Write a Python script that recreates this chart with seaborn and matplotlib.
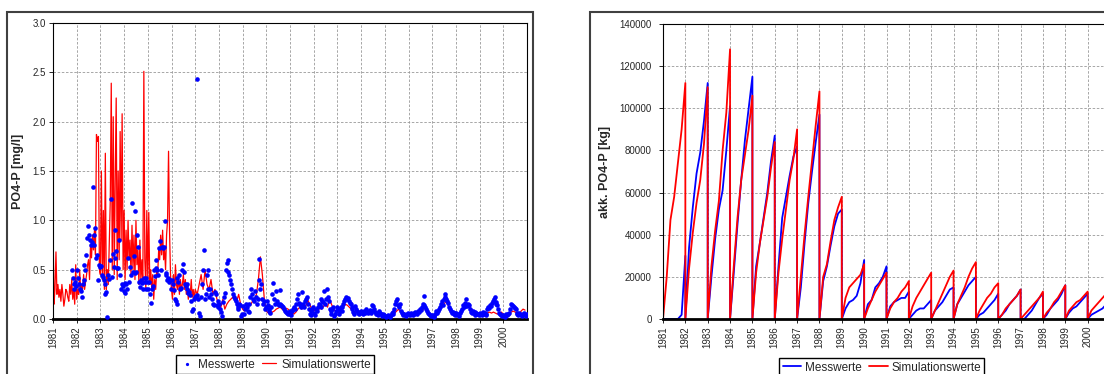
import numpy as np
import pandas as pd
import matplotlib
matplotlib.use("Agg")
import matplotlib.pyplot as plt
from matplotlib.patches import Rectangle
import seaborn as sns

sns.set_theme(style="white")
plt.rcParams["font.family"] = ["Liberation Sans", "DejaVu Sans"]

# =====================================================
# Data
# =====================================================

years = list(range(1981, 2001))

# simulated PO4-P [mg/l], half-monthly 1981-1986
sim_early = [
    0.98, 0.15, 0.30, 0.68, 0.25, 0.35, 0.22, 0.30, 0.18, 0.35, 0.25, 0.13,
    0.20, 0.30, 0.28, 0.22, 0.18, 0.35, 0.25, 0.40, 0.20, 0.30, 0.15, 0.55,
    0.20, 0.30, 0.25, 0.50, 0.28, 0.35, 0.30, 0.45, 0.30, 0.38, 0.45, 0.55,
    0.60, 0.40, 0.75, 0.62, 0.85, 0.70, 0.90, 0.65, 1.87, 1.80, 1.85, 0.50,
    0.45, 1.50, 0.40, 1.10, 0.30, 1.68, 0.30, 0.50, 0.35, 0.80, 1.20, 2.39,
    0.50, 2.05, 0.45, 1.40, 2.24, 0.40, 1.50, 0.60, 1.90, 0.80, 2.08, 0.50,
    1.10, 0.40, 0.90, 0.50, 1.00, 0.60, 0.80, 0.45, 0.95, 0.50, 0.85, 0.40,
    1.00, 0.55, 0.70, 0.35, 0.80, 0.40, 0.60, 0.35, 2.51, 0.60, 0.30, 1.10,
    0.40, 1.08, 0.35, 0.50, 0.30, 0.45, 0.20, 0.40, 0.30, 0.50, 0.45, 0.70,
    0.60, 0.85, 0.65, 0.90, 0.60, 0.70, 0.50, 0.85, 1.00, 1.70, 0.90, 0.45,
    0.30, 0.20, 0.45, 0.25, 0.55, 0.35, 0.30, 0.45, 0.25, 0.40, 0.30, 0.35,
    0.45, 0.30, 0.40, 0.25, 0.35, 0.20, 0.30, 0.25, 0.40, 0.22, 0.30, 0.20,
]

# simulated PO4-P [mg/l], monthly 1987-2000
sim_late = [
    0.30, 0.25, 0.35, 0.45, 0.30, 0.50, 0.35, 0.30, 0.40, 0.25, 0.30, 0.20,
    0.15, 0.12, 0.20, 0.10, 0.15, 0.18, 0.20, 0.22, 0.20, 0.18, 0.25, 0.15,
    0.10, 0.08, 0.12, 0.15, 0.14, 0.18, 0.20, 0.25, 0.40, 0.63, 0.45, 0.20,
    0.08, 0.06, 0.05, 0.07, 0.08, 0.10, 0.11, 0.12, 0.10, 0.09, 0.11, 0.10,
    0.08, 0.06, 0.05, 0.07, 0.10, 0.12, 0.10, 0.14, 0.13, 0.19, 0.15, 0.10,
    0.08, 0.10, 0.07, 0.12, 0.10, 0.13, 0.15, 0.12, 0.20, 0.15, 0.10, 0.08,
    0.07, 0.06, 0.10, 0.12, 0.15, 0.14, 0.12, 0.10, 0.08, 0.07, 0.08, 0.06,
    0.05, 0.06, 0.07, 0.06, 0.05, 0.06, 0.08, 0.07, 0.05, 0.06, 0.05, 0.04,
    0.04, 0.03, 0.04, 0.03, 0.05, 0.06, 0.08, 0.10, 0.07, 0.06, 0.05, 0.04,
    0.04, 0.05, 0.05, 0.06, 0.05, 0.06, 0.07, 0.08, 0.12, 0.10, 0.06, 0.04,
    0.03, 0.04, 0.05, 0.08, 0.10, 0.12, 0.15, 0.18, 0.14, 0.10, 0.06, 0.05,
    0.05, 0.06, 0.05, 0.08, 0.10, 0.12, 0.14, 0.12, 0.10, 0.08, 0.06, 0.05,
    0.06, 0.05, 0.06, 0.07, 0.06, 0.07, 0.06, 0.07, 0.06, 0.05, 0.06, 0.07,
    0.05, 0.04, 0.05, 0.06, 0.07, 0.08, 0.07, 0.06, 0.05, 0.08, 0.10, 0.09,
]

# measured PO4-P [mg/l], 26 samples per year from 1981
meas = [np.nan] * 20 + [0.50, 0.42, 0.35, 0.30, 0.37, 0.33] + [
    0.50, 0.42, 0.35, 0.30, 0.28, 0.22, 0.35, 0.40, 0.55, 0.50, 0.65, 0.82, 0.94,
    0.85, 0.80, 0.75, 0.78, 1.34, 0.85, 0.75, 0.92, 0.62, 0.65, 0.40, 0.55, 0.53,
    0.54, 0.45, 0.43, 0.40, 0.35, 0.25, 0.27, 0.02, 0.45, 0.41, 0.60, 1.22, 0.43,
    0.66, 0.53, 0.62, 0.90, 0.69, 0.52, 0.52, 0.80, 0.45, 0.30, 0.35, 0.33, 0.28,
    0.36, 0.26, 0.35, 0.30, 0.62, 0.37, 0.53, 0.45, 1.18, 0.48, 0.64, 0.47, 1.09,
    0.48, 0.85, 0.73, 0.38, 0.32, 0.40, 0.36, 0.30, 0.42, 0.37, 0.30, 0.42, 0.38,
    0.30, 0.37, 0.25, 0.16, 0.30, 0.33, 0.50, 0.44, 0.60, 0.52, 0.50, 0.45, 0.72,
    0.79, 0.50, 0.73, 0.72, 0.73, 0.99, 0.47, 0.45, 0.40, 0.42, 0.38, 0.40, 0.30,
    0.40, 0.35, 0.29, 0.20, 0.18, 0.15, 0.42, 0.38, 0.45, 0.30, 0.31, 0.50, 0.56,
    0.48, 0.35, 0.33, 0.35, 0.30, 0.26, 0.27, 0.24, 0.18, 0.08, 0.10, 0.20, 0.22,
    0.23, 2.43, 0.24, 0.20, 0.06, 0.03, 0.22, 0.35, 0.50, 0.70, 0.20, 0.25, 0.45,
    0.50, 0.30, 0.22, 0.30, 0.25, 0.20, 0.15, 0.14, 0.27, 0.25, 0.14, 0.18, 0.12,
    0.15, 0.10, 0.07, 0.03, 0.17, 0.22, 0.26, 0.50, 0.57, 0.60, 0.48, 0.45, 0.40,
    0.35, 0.30, 0.25, 0.22, 0.20, 0.18, 0.15, 0.12, 0.10, 0.15, 0.14, 0.03, 0.05,
    0.13, 0.05, 0.10, 0.15, 0.12, 0.08, 0.07, 0.15, 0.22, 0.30, 0.25, 0.20, 0.18,
    0.28, 0.22, 0.15, 0.20, 0.61, 0.40, 0.30, 0.35, 0.20, 0.15, 0.18, 0.10, 0.12,
    0.18, 0.14, 0.10, 0.08, 0.06, 0.12, 0.25, 0.36, 0.20, 0.15, 0.28, 0.18, 0.15,
    0.14, 0.29, 0.15, 0.14, 0.13, 0.12, 0.10, 0.08, 0.07, 0.06, 0.05, 0.07, 0.08,
    0.05, 0.04, 0.08, 0.10, 0.12, 0.10, 0.15, 0.20, 0.25, 0.16, 0.15, 0.14, 0.12,
    0.27, 0.15, 0.12, 0.18, 0.20, 0.22, 0.15, 0.10, 0.05, 0.08, 0.04, 0.10, 0.12,
    0.06, 0.04, 0.10, 0.08, 0.12, 0.15, 0.14, 0.20, 0.12, 0.18, 0.17, 0.28, 0.15,
    0.20, 0.30, 0.22, 0.18, 0.10, 0.05, 0.08, 0.10, 0.12, 0.03, 0.05, 0.08, 0.12,
    0.10, 0.05, 0.08, 0.12, 0.12, 0.08, 0.15, 0.18, 0.20, 0.22, 0.20, 0.21, 0.18,
    0.16, 0.15, 0.12, 0.10, 0.07, 0.05, 0.13, 0.10, 0.08, 0.06, 0.05, 0.07, 0.08,
    0.07, 0.06, 0.05, 0.08, 0.06, 0.10, 0.07, 0.06, 0.08, 0.09, 0.06, 0.08, 0.14,
    0.13, 0.10, 0.07, 0.05, 0.06, 0.04, 0.08, 0.06, 0.05, 0.03, 0.04, 0.05, 0.04,
    0.03, 0.02, 0.03, 0.04, 0.03, 0.02, 0.04, 0.06, 0.05, 0.07, 0.10, 0.15, 0.18,
    0.20, 0.14, 0.12, 0.15, 0.08, 0.06, 0.05, 0.04, 0.05, 0.04, 0.03, 0.05, 0.06,
    0.05, 0.04, 0.06, 0.05, 0.04, 0.06, 0.05, 0.07, 0.06, 0.05, 0.08, 0.07, 0.10,
    0.09, 0.12, 0.15, 0.23, 0.14, 0.12, 0.10, 0.08, 0.06, 0.05, 0.04, 0.03, 0.04,
    0.03, 0.02, 0.03, 0.05, 0.08, 0.06, 0.08, 0.10, 0.12, 0.15, 0.18, 0.14, 0.20,
    0.22, 0.25, 0.20, 0.18, 0.16, 0.12, 0.10, 0.08, 0.06, 0.07, 0.05, 0.06, 0.04,
    0.06, 0.05, 0.04, 0.03, 0.06, 0.08, 0.10, 0.14, 0.12, 0.13, 0.16, 0.20, 0.13,
    0.15, 0.14, 0.10, 0.07, 0.06, 0.08, 0.06, 0.07, 0.04, 0.06, 0.05, 0.05, 0.04,
    0.06, 0.05, 0.04, 0.07, 0.05, 0.06, 0.05, 0.04, 0.10, 0.12, 0.11, 0.14, 0.13,
    0.16, 0.18, 0.20, 0.22, 0.17, 0.15, 0.14, 0.10, 0.06, 0.05, 0.04, 0.03, 0.04,
    0.03, 0.02, 0.04, 0.05, 0.04, 0.05, 0.06, 0.10, 0.15, 0.14, 0.13, 0.12, 0.11,
    0.10, 0.06, 0.05, 0.04, 0.06, 0.05, 0.04, 0.03, 0.05, 0.06, 0.04, 0.03, 0.05,
]

# accumulated load [1000 kg], bi-monthly within each year (Jan 1 ... Dec 31)
acc_sim = [
    [0, 20, 47, 58, 74, 90, 112],
    [0, 24, 41, 55, 66, 83, 110],
    [0, 25, 42, 56, 80, 98, 128],
    [0, 25, 48, 66, 78, 90, 106],
    [0, 22, 36, 47, 58, 72, 84],
    [0, 22, 38, 52, 66, 76, 90],
    [0, 20, 40, 58, 75, 92, 108],
    [0, 20, 26, 37, 47, 53, 58],
    [0, 10, 15, 17, 19, 21, 26],
    [0, 5, 9, 13, 16, 19, 22],
    [0, 5, 8, 10, 13, 15, 18],
    [0, 6, 10, 13, 16, 19, 22],
    [0, 4, 8, 12, 16, 20, 23],
    [0, 7, 11, 15, 20, 24, 27],
    [0, 4, 7, 10, 12, 15, 17],
    [0, 2, 5, 7, 9, 11, 14],
    [0, 2, 4, 6, 8, 10, 13],
    [0, 3, 5, 8, 10, 13, 16],
    [0, 4, 6, 8, 9, 11, 13],
    [0, 4, 6, 8, 10, 12, 14],
]

acc_meas = [
    [0, 0, 0, 0, 0, 2, 30],
    [0, 34, 53, 69, 79, 94, 112],
    [0, 20, 38, 52, 61, 80, 101],
    [0, 22, 45, 66, 85, 100, 115],
    [0, 25, 36, 48, 60, 75, 87],
    [0, 25, 48, 58, 68, 77, 82],
    [0, 15, 36, 55, 70, 84, 97],
    [0, 18, 25, 35, 44, 50, 52],
    [0, 5, 8, 9, 11, 17, 28],
    [0, 7, 9, 15, 17, 20, 25],
    [0, 6, 8, 9, 10, 10, 13],
    [0, 2, 4, 5, 5, 7, 9],
    [0, 4, 6, 8, 11, 14, 15],
    [0, 7, 10, 13, 16, 18, 20],
    [0, 2, 3, 5, 7, 9, 12],
    [0, 2, 4, 7, 9, 11, 14],
    [0, 0, 2, 4, 7, 10, 12],
    [0, 2, 5, 7, 9, 12, 16],
    [0, 3, 5, 6, 8, 10, 12],
    [0, 2, 3, 4, 5, 7, 8],
]

# =====================================================
# Tables
# =====================================================

sim_df = pd.DataFrame({
    "t": np.concatenate([
        1981 + np.arange(len(sim_early)) / 24,
        1987 + np.arange(len(sim_late)) / 12,
    ]),
    "v": sim_early + sim_late,
})

meas_df = pd.DataFrame({
    "t": 1981 + (np.arange(len(meas)) + 0.5) / 26,
    "v": meas,
}).dropna()


def acc_table(rows):
    t, v = [], []
    for year, row in zip(years, rows):
        for i, val in enumerate(row):
            t.append(year + i / (len(row) - 1))
            v.append(val * 1000)
    return pd.DataFrame({"t": t, "v": v})


acc_sim_df = acc_table(acc_sim)
acc_meas_df = acc_table(acc_meas)

# =====================================================
# Figure
# =====================================================

W, H = 1104, 374
fig = plt.figure(figsize=(W / 100, H / 100), dpi=100)
fig.patch.set_facecolor("white")


def px_axes(x0, y0, x1, y1):
    return fig.add_axes([x0 / W, 1 - y1 / H, (x1 - x0) / W, (y1 - y0) / H])


def style_axes(ax):
    ax.set_facecolor("white")
    ax.set_xlim(1981, 2001)
    ax.set_xticks(years)
    ax.set_xticklabels([str(y) for y in years], rotation=90, fontsize=7)
    ax.grid(True, color="#999999", linestyle=(0, (3, 2)), linewidth=0.6)
    ax.set_axisbelow(True)
    for side in ["left", "top", "right"]:
        ax.spines[side].set_color("black")
        ax.spines[side].set_linewidth(0.8)
    ax.spines["bottom"].set_color("black")
    ax.spines["bottom"].set_linewidth(2.0)
    ax.tick_params(axis="both", direction="out", length=3, width=0.6,
                   color="black", labelsize=7, pad=2,
                   bottom=True, left=True)
    ax.set_xlabel("")


# chart frames
for x0, x1 in [(7, 533), (590, 1110)]:
    fig.add_artist(Rectangle((x0 / W, -0.1), (x1 - x0) / W, 1 - 12 / H + 0.1,
                             transform=fig.transFigure, fill=False,
                             edgecolor="#404040", linewidth=1.5))

# ---------------- left: concentration ----------------
ax1 = px_axes(53, 23, 527, 319)

sns.lineplot(data=sim_df, x="t", y="v", ax=ax1, color="#ff0000",
             linewidth=0.9, estimator=None, sort=False,
             label="Simulationswerte")
sns.scatterplot(data=meas_df, x="t", y="v", ax=ax1, color="#0000ff",
                s=11, linewidth=0, marker="o", label="Messwerte", zorder=3)

style_axes(ax1)
ax1.set_ylim(0, 3.0)
ax1.set_yticks(np.arange(0, 3.01, 0.5))
ax1.set_yticklabels([f"{v:.1f}" for v in np.arange(0, 3.01, 0.5)])
ax1.set_ylabel("PO4-P [mg/l]", fontsize=9, fontweight="bold", labelpad=6)

h, l = ax1.get_legend_handles_labels()
ax1.get_legend().remove()
fig.legend([h[1], h[0]], [l[1], l[0]], loc="upper left",
           bbox_to_anchor=(176 / W, 1 - 355 / H), ncol=2, fontsize=8.5,
           frameon=True, fancybox=False, edgecolor="black", framealpha=1,
           borderpad=0.3, handlelength=1.2, handletextpad=0.4,
           columnspacing=0.6, borderaxespad=0, markerscale=0.7)

# ---------------- right: accumulated load ----------------
ax2 = px_axes(663, 24, 1110, 319)

sns.lineplot(data=acc_meas_df, x="t", y="v", ax=ax2, color="#0000ff",
             linewidth=1.3, estimator=None, sort=False, label="Messwerte")
sns.lineplot(data=acc_sim_df, x="t", y="v", ax=ax2, color="#ff0000",
             linewidth=1.3, estimator=None, sort=False,
             label="Simulationswerte")

style_axes(ax2)
ax2.set_ylim(0, 140000)
ax2.set_yticks(np.arange(0, 140001, 20000))
ax2.set_yticklabels([str(v) for v in range(0, 140001, 20000)])
ax2.tick_params(axis="y", pad=5)
ax2.set_ylabel("akk. PO4-P [kg]", fontsize=9, fontweight="bold", labelpad=6)

h, l = ax2.get_legend_handles_labels()
ax2.get_legend().remove()
fig.legend(h, l, loc="upper left",
           bbox_to_anchor=(779 / W, 1 - 358 / H), ncol=2, fontsize=8.5,
           frameon=True, fancybox=False, edgecolor="black", framealpha=1,
           borderpad=0.3, handlelength=1.6, handletextpad=0.3,
           columnspacing=0.6, borderaxespad=0)

fig.savefig("out.png", dpi=100)
